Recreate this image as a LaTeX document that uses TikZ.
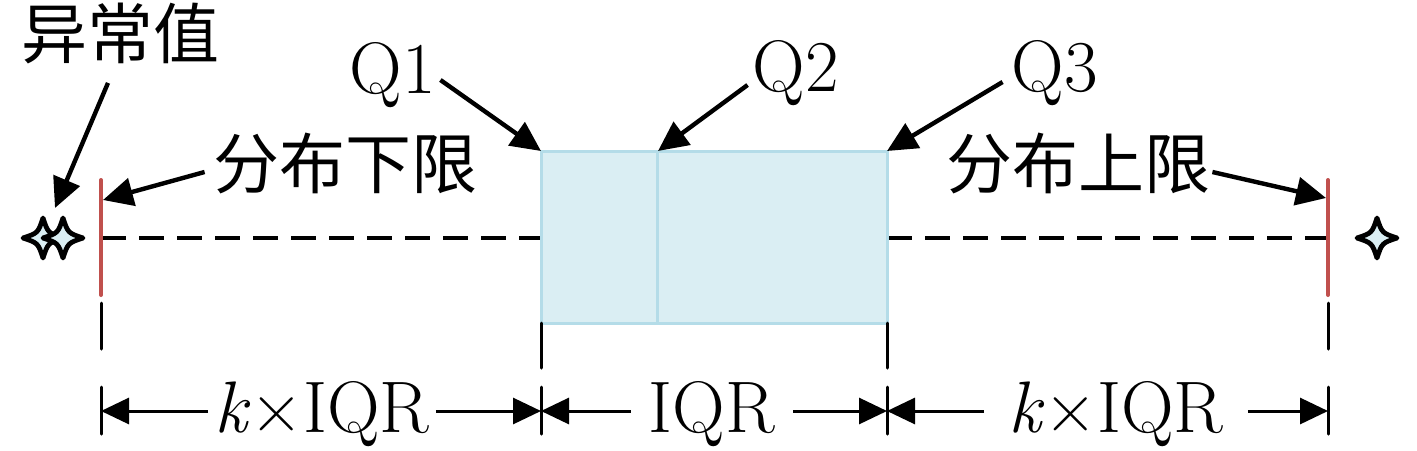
\documentclass[tikz,border=0pt]{standalone}
\usepackage{fontspec}
\newfontfamily\cjk{Noto Sans CJK SC}
\usetikzlibrary{arrows.meta}
\definecolor{boxfill}{HTML}{DAEEF3}
\definecolor{boxline}{HTML}{B4DCE8}
\definecolor{redline}{HTML}{C0504D}
\tikzset{
  latin/.style={inner sep=0pt, font=\fontsize{36.5}{40}\selectfont, text height=24.9pt, text depth=0pt},
  zh/.style={inner sep=0pt, font=\fontsize{33}{36}\selectfont\cjk},
  lead/.style={line width=2.2pt, -{Triangle[length=15pt,width=14pt]}},
  dim/.style={line width=1.5pt, -{Triangle[length=14pt,width=13pt]}},
  tickline/.style={line width=1.5pt, line cap=round},
  whisker/.style={line width=2pt, dash pattern=on 12.5pt off 6.5pt},
  limitline/.style={draw=redline, line width=2pt, line cap=round},
  iqrbox/.style={fill=boxfill, draw=boxline, line width=1.5pt},
  starsty/.style={fill=boxfill, draw=black, line width=2.4pt, line join=round},
  star4/.pic={\path[starsty] (20,0) .. controls (5,5) .. (0,20) .. controls (-5,5) .. (-20,0) .. controls (-5,-5) .. (0,-20) .. controls (5,-5) .. (20,0) -- cycle;}
}
\begin{document}
\begin{tikzpicture}[x=0.5pt,y=-0.5pt]
\useasboundingbox (0,0) rectangle (1417,450);

% whiskers
\draw[whisker] (101,238) -- (541,238);
\draw[whisker] (887,238) -- (1328,238);

% box
\path[iqrbox] (541,151) rectangle (887,323);
\draw[boxline, line width=1.5pt] (657,151) -- (657,323);
\coordinate (q1p) at (541,151);
\coordinate (q2p) at (658,151);
\coordinate (q3p) at (887,151);

% limits
\draw[limitline] (101,180) -- (101,295);
\draw[limitline] (1328,180) -- (1328,295);
\coordinate (lowp) at (103,200);
\coordinate (upp) at (1326,198);

% outliers
\pic at (43,238) {star4};
\pic at (63,238) {star4};
\pic at (1377,238) {star4};
\coordinate (outl) at (55,208);

% labels
\node[zh] (yc) at (120,33) {异常值};
\node[latin] (q1) at (393,69) {Q1};
\node[latin] (q2) at (796,67) {Q2};
\node[latin] (q3) at (1055,67) {Q3};
\node[zh] (xl) at (345,163) {分布下限};
\node[zh] (sl) at (1078,163) {分布上限};

% leader arrows
\draw[lead] ([shift={(-12,19)}]yc.south) -- (outl);
\draw[lead] ([shift={(-8,9)}]xl.west) -- (lowp);
\draw[lead] ([shift={(2,9)}]sl.east) -- (upp);
\draw[lead] ([shift={(4,11)}]q1.east) -- (q1p);
\draw[lead] ([shift={(-5,18)}]q2.west) -- (q2p);
\draw[lead] ([shift={(-9,15)}]q3.west) -- (q3p);

% ticks
\foreach \x in {101,1328} {
  \draw[tickline] (\x,303) -- (\x,349);
  \draw[tickline] (\x,387) -- (\x,434);
}
\foreach \x in {541,887} {
  \draw[tickline] (\x,323) -- (\x,368);
  \draw[tickline] (\x,387) -- (\x,434);
}

% dimension labels
\coordinate (d1) at (101,411);
\coordinate (d2) at (541,411);
\coordinate (d3) at (887,411);
\coordinate (d4) at (1328,411);
\node[latin, inner xsep=3pt] (k1) at (322,408) {\textit{k}×IQR};
\node[latin, inner xsep=9pt] (k2) at (712,408) {IQR};
\node[latin, inner xsep=12pt] (k3) at (1116,408) {\textit{k}×IQR};
\draw[dim] (k1.west |- d1) -- (d1);
\draw[dim] (k1.east |- d1) -- (d2);
\draw[dim] (k2.west |- d1) -- (d2);
\draw[dim] (k2.east |- d1) -- (d3);
\draw[dim] (k3.west |- d1) -- (d3);
\draw[dim] (k3.east |- d1) -- (d4);
\end{tikzpicture}
\end{document}
